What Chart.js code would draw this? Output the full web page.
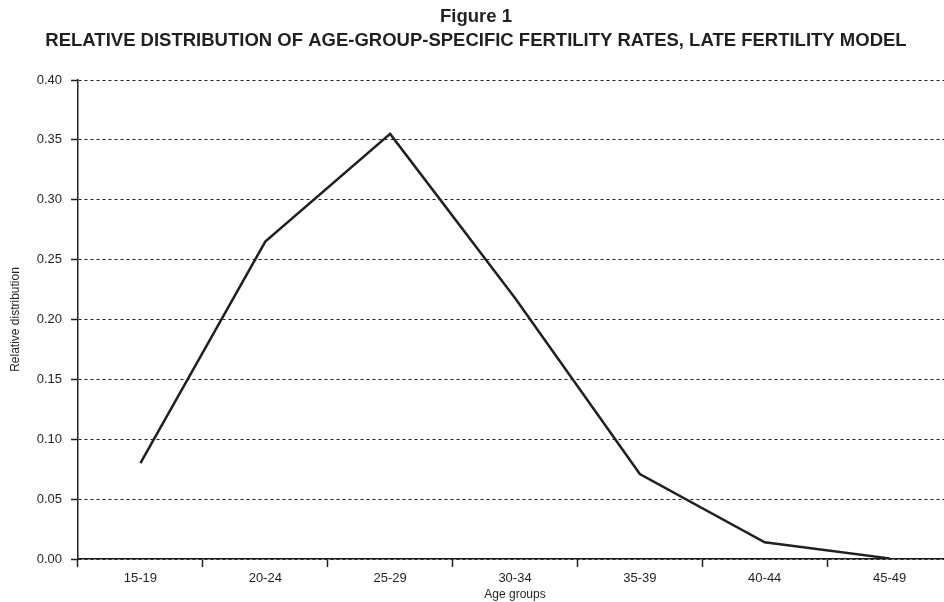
<!DOCTYPE html>
<html>
<head>
<meta charset="utf-8">
<script src="https://cdn.jsdelivr.net/npm/chart.js@4"></script>
<style>
  html, body { margin: 0; padding: 0; background: #fff; overflow: hidden; }
  /* plot runs a few px past the right edge, as in the original */
  #wrap { width: 952px; height: 602px; }
</style>
</head>
<body>
<div id="wrap"><canvas id="fertChart"></canvas></div>
<script>
// age groups and relative distribution (late fertility model)
const ageGroups = ['15-19', '20-24', '25-29', '30-34', '35-39', '40-44', '45-49'];
const relDist = [0.080, 0.265, 0.355, 0.218, 0.071, 0.014, 0.0005];
const yTicks = [0, 0.05, 0.10, 0.15, 0.20, 0.25, 0.30, 0.35, 0.40];

const fontFamily = '"Liberation Sans", Arial, Helvetica, sans-serif';

const config = {
    type: 'line',
    data: {
        labels: ageGroups,
        datasets: [{
            data: relDist,
            borderColor: '#231f20',
            borderWidth: 2.5,
            pointRadius: 0,
            tension: 0,
            fill: false
        }]
    },
    options: {
        responsive: true,
        maintainAspectRatio: false,
        animation: false,
        layout: { padding: 0 },
        plugins: {
            legend: { display: false },
            tooltip: { enabled: false },
            title: {
                display: true,
                text: 'Figure 1',
                color: '#231f20',
                font: { family: fontFamily, size: 18.5, weight: 'bold', lineHeight: 1.2 },
                padding: { top: 6, bottom: 2 }
            },
            subtitle: {
                display: true,
                text: 'RELATIVE DISTRIBUTION OF AGE-GROUP-SPECIFIC FERTILITY RATES, LATE FERTILITY MODEL',
                color: '#231f20',
                font: { family: fontFamily, size: 18.5, weight: 'bold', lineHeight: 1.2 },
                padding: { top: 0, bottom: 27.6 }
            }
        },
        scales: {
            x: {
                offset: true,
                afterFit: scale => { scale.height = 43; },
                grid: {
                    offset: true,
                    drawOnChartArea: false,
                    tickLength: 8,
                    tickColor: '#231f20',
                    tickWidth: 1.5
                },
                border: { color: '#231f20', width: 1.5 },
                ticks: {
                    color: '#231f20',
                    padding: 4,
                    font: { family: fontFamily, size: 13 }
                },
                title: {
                    display: true,
                    text: 'Age groups',
                    color: '#231f20',
                    padding: { top: 0, bottom: 0 },
                    font: { family: fontFamily, size: 12 }
                }
            },
            y: {
                min: 0,
                max: 0.40,
                afterBuildTicks: scale => {
                    scale.ticks = yTicks.map(v => ({ value: v }));
                },
                afterFit: scale => { scale.width = 78; },
                grid: {
                    color: '#231f20',
                    lineWidth: 1,
                    tickLength: 7,
                    tickColor: '#231f20',
                    tickWidth: 1.5,
                    tickBorderDash: []
                },
                border: { color: '#231f20', width: 1.5, dash: [3, 3] },
                ticks: {
                    color: '#231f20',
                    padding: 9,
                    font: { family: fontFamily, size: 13 },
                    callback: v => v.toFixed(2)
                },
                title: {
                    display: true,
                    text: 'Relative distribution',
                    color: '#231f20',
                    padding: { top: 8, bottom: 0 },
                    font: { family: fontFamily, size: 12 }
                }
            }
        }
    }
};

const fertChart = new Chart(document.getElementById('fertChart'), config);
</script>
</body>
</html>
